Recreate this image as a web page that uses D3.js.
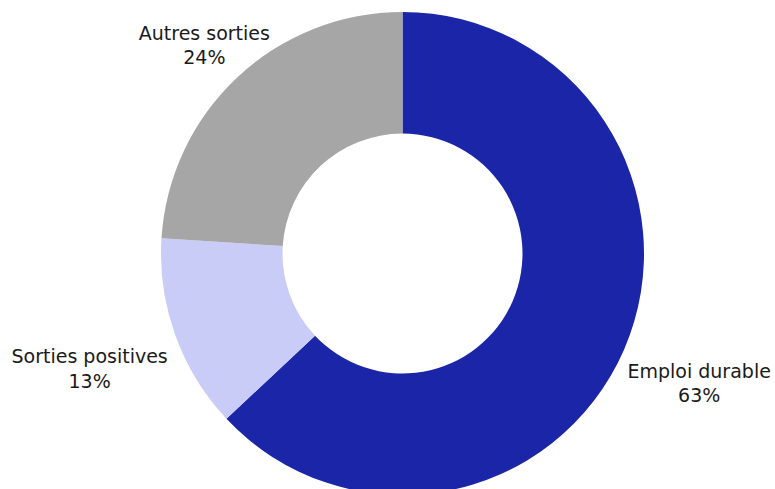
<!DOCTYPE html>
<html>
<head>
<meta charset="utf-8">
<script src="https://cdn.jsdelivr.net/npm/d3@7"></script>
<style>
  body { margin: 0; background: #fff; }
  svg text { font-family: "DejaVu Sans", sans-serif; fill: #1a1a1a; }
</style>
</head>
<body>
<div id="chart"></div>
<script>
// data
const categories = ["Emploi durable", "Sorties positives", "Autres sorties"];
const shares = [63, 13, 24];
const colors = ["#1a25a8", "#c9ccf6", "#a6a6a6"];

(function() {
    let w = 775,
        h = 489,
        cx = 402.5,
        cy = 253.5,
        outer_r = 241.5,
        inner_r = 120;

    let svg = d3.select("#chart")
        .append("svg")
        .attr("width", w)
        .attr("height", h);

    let pie = d3.pie().sort(null).value(d => d.value);
    let arc = d3.arc().innerRadius(inner_r).outerRadius(outer_r);
    let label_arc = d3.arc().innerRadius(outer_r + 8).outerRadius(outer_r + 8);

    let rows = categories.map((c, i) => ({ name: c, value: shares[i], color: colors[i] }));

    let g = svg.append("g").attr("transform", `translate(${cx},${cy})`);

    let slices = pie(rows);

    g.selectAll("path").data(slices).enter().append("path")
        .attr("d", arc)
        .attr("fill", d => d.data.color);

    // labels sit just outside the ring, both lines centred in their block;
    // the block hangs off the ring on the side the slice points to
    let lab = g.selectAll("text.lab").data(slices).enter().append("text")
        .attr("class", "lab")
        .attr("font-size", 19)
        .attr("text-anchor", "middle");

    lab.each(function(d) {
        let t = d3.select(this),
            a = (d.startAngle + d.endAngle) / 2,
            p = label_arc.centroid(d),
            sx = Math.sin(a),
            lower = Math.cos(a) < 0;
        let l1 = t.append("tspan").text(d.data.name);
        let l2 = t.append("tspan").text(d.data.value + "%");
        let bw = Math.max(l1.node().getComputedTextLength(), l2.node().getComputedTextLength());
        let x = p[0] + sx * 40;
        if (sx > 0.8) x = p[0] - 4 + bw / 2;
        if (sx < -0.8) x = p[0] - bw / 2;
        let y = lower ? p[1] + 25 : p[1] - 32;
        l1.attr("x", x).attr("y", y);
        l2.attr("x", x).attr("y", y + 24.5);
    });
})();
</script>
</body>
</html>
